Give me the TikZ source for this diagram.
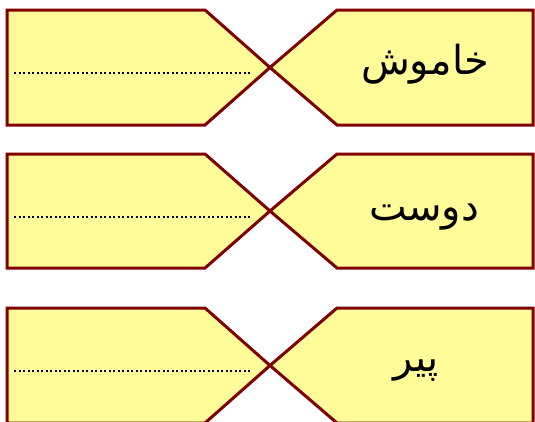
\documentclass[tikz,border=0pt]{standalone}
\usepackage{fontspec}
\TeXXeTstate=1
\newfontfamily\arabicfont[Script=Arabic]{DejaVu Sans}
\definecolor{boxfill}{RGB}{255,252,153}
\definecolor{boxline}{RGB}{128,0,0}
\begin{document}
\begin{tikzpicture}[x=1pt,y=-1pt,
  tagshape/.style={draw=boxline, fill=boxfill, line width=3pt, line join=miter},
  blankline/.style={draw=black, line width=2pt, dash pattern=on 2pt off 2.5pt},
  word/.style={font=\arabicfont\fontsize{40}{48}\selectfont, anchor=center, inner sep=0pt}]
\useasboundingbox (0,0) rectangle (535,421);
% row 1
\draw[tagshape] (7,10) -- (205,10) -- (270,67.5) -- (205,125) -- (7,125) -- cycle;
\draw[tagshape] (270,67.5) -- (337,10) -- (533,10) -- (533,125) -- (337,125) -- cycle;
\coordinate (a1) at (14,73); \coordinate (b1) at (252,73);
\draw[blankline] (a1) -- (b1);
\node[word] (w1) at (425,64) {\beginR خاموش\endR};
% row 2
\draw[tagshape] (7,154) -- (205,154) -- (270,211) -- (205,268) -- (7,268) -- cycle;
\draw[tagshape] (270,211) -- (337,154) -- (533,154) -- (533,268) -- (337,268) -- cycle;
\coordinate (a2) at (14,216.5); \coordinate (b2) at (252,216.5);
\draw[blankline] (a2) -- (b2);
\node[word] (w2) at (424,217) {\beginR دوست\endR};
% row 3
\draw[tagshape] (7,308) -- (205,308) -- (270,365.5) -- (205,423) -- (7,423) -- cycle;
\draw[tagshape] (270,365.5) -- (337,308) -- (533,308) -- (533,423) -- (337,423) -- cycle;
\coordinate (a3) at (14,371); \coordinate (b3) at (252,371);
\draw[blankline] (a3) -- (b3);
\node[word] (w3) at (416,371) {\beginR پیر\endR};
\end{tikzpicture}
\end{document}
